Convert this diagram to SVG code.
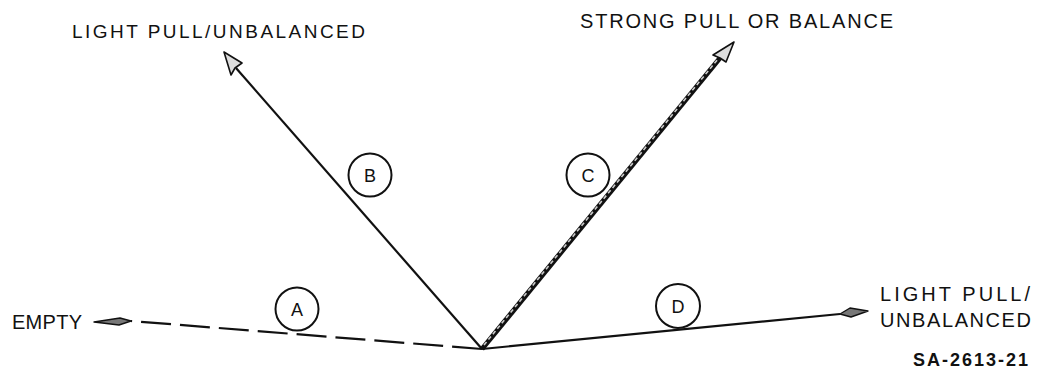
<svg xmlns="http://www.w3.org/2000/svg" width="1037" height="373" viewBox="0 0 1037 373">
<style>
text{font-family:"Liberation Sans",Arial,sans-serif;fill:#111;}
.lbl{font-size:20px;}
.ltr{font-size:18px;text-anchor:middle;}
.circ{fill:none;stroke:#111;stroke-width:2;}
.ln{stroke:#111;stroke-width:2.2;fill:none;}
.head{fill:#ddd;stroke:#111;stroke-width:1.6;stroke-linejoin:round;}
.head2{fill:#777;stroke:#111;stroke-width:1.4;stroke-linejoin:round;}
</style>
<rect width="1037" height="373" fill="#fff"/>
<g id="connectors">
  <path class="ln" d="M482,349 L131,321" stroke-dasharray="30,9"/>
  <path class="head2" d="M94,322 L120,318 L131,321 L119,325 Z"/>
  <path class="ln" d="M482,349 L236,68"/>
  <path class="head" d="M224,52 L242,63 L235,68 L231,75 Z"/>
  <path d="M482,349 L720,58" stroke="#111" stroke-width="5" fill="none"/>
  <path d="M484,345 L718,59" stroke="#ccc" stroke-width="1.6" fill="none" stroke-dasharray="4,3"/>
  <path class="head" d="M734,42 L726,62 L720,58 L713,55 Z"/>
  <path class="ln" d="M482,349 L840,314"/>
  <path class="head2" d="M868,311 L850,308 L840,314 L851,317 Z"/>
</g>
<g id="node-A"><circle class="circ" cx="297" cy="309" r="21.5"/><text class="ltr" x="297" y="316">A</text></g>
<g id="node-B"><circle class="circ" cx="370" cy="175" r="21.5"/><text class="ltr" x="370" y="182">B</text></g>
<g id="node-C"><circle class="circ" cx="588" cy="175" r="21.5"/><text class="ltr" x="588" y="182">C</text></g>
<g id="node-D"><circle class="circ" cx="678" cy="306" r="22"/><text class="ltr" x="678" y="313">D</text></g>
<g id="label-light-top"><text class="lbl" x="72" y="38" textLength="293" lengthAdjust="spacing" style="font-size:19px">LIGHT PULL/UNBALANCED</text></g>
<g id="label-strong"><text class="lbl" x="580" y="28" textLength="313" lengthAdjust="spacing">STRONG PULL OR BALANCE</text></g>
<g id="label-empty"><text class="lbl" x="12" y="329" textLength="70" lengthAdjust="spacing">EMPTY</text></g>
<g id="label-light-right"><text class="lbl" x="880" y="301" textLength="150" lengthAdjust="spacing">LIGHT PULL/</text><text class="lbl" x="880" y="327" textLength="151" lengthAdjust="spacing">UNBALANCED</text></g>
<g id="label-code"><text x="913" y="366" textLength="115" lengthAdjust="spacing" style="font-size:18px;font-weight:bold">SA-2613-21</text></g>
</svg>
